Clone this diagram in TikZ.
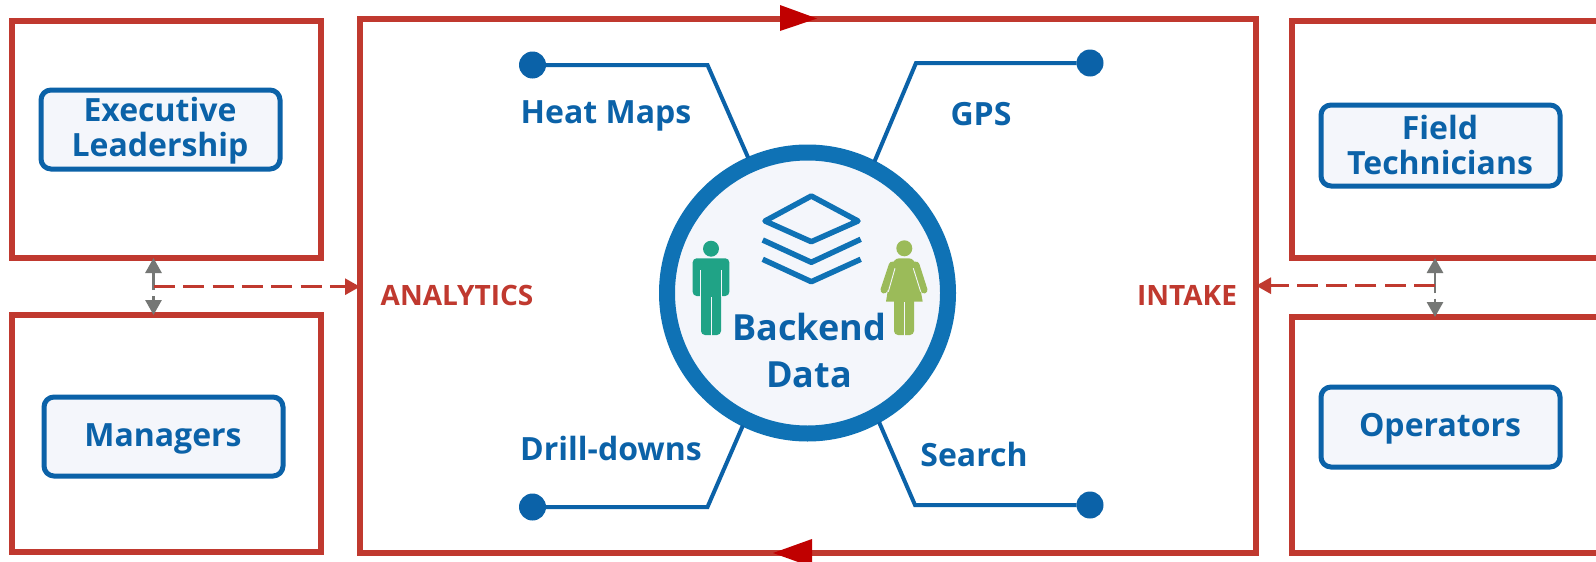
\documentclass[tikz,border=0pt]{standalone}
\usepackage{fontspec}
\setmainfont{Open Sans}
\usetikzlibrary{arrows.meta,calc}
\definecolor{blu}{HTML}{0B62A8}
\definecolor{ringblu}{HTML}{0F72B5}
\definecolor{pale}{HTML}{F4F6FB}
\definecolor{redd}{HTML}{C0392F}
\definecolor{tipred}{HTML}{C00000}
\definecolor{gry}{HTML}{757775}
\definecolor{grn}{HTML}{20A386}
\definecolor{olv}{HTML}{9BBB59}
\tikzset{
  x=1pt,y=-1pt,
  redbox/.style={draw=redd,line width=5.3pt,fill=white,rectangle,outer sep=0pt,inner sep=0pt},
  rolebox/.style={draw=blu,line width=5pt,fill=pale,rectangle,rounded corners=10pt,outer sep=0pt,inner sep=0pt},
  lbl/.style={text=blu,font=\fontsize{32}{35.5}\selectfont\bfseries,inner sep=0pt,align=center},
  redlbl/.style={text=redd,font=\fontsize{28}{30}\selectfont\bfseries,inner sep=0pt},
  spoke/.style={draw=blu,line width=4pt,line join=miter},
  dot/.style={circle,fill=blu,minimum size=27pt,inner sep=0pt,outer sep=0pt},
  greyarrow/.style={draw=gry,line width=2.8pt,-{Triangle[length=15pt,width=16pt]}},
  dasharrow/.style={draw=redd,line width=2.8pt,dash pattern=on 21pt off 8.3pt,-{Triangle[length=15pt,width=16pt]}},
  stack/.style={draw=ringblu,line width=5.5pt,line join=round},
}
\begin{document}
\begin{tikzpicture}
\path[use as bounding box,clip] (0,0) rectangle (1596,562);
\fill[white] (0,0) rectangle (1596,562);
% outer frames
\node[redbox,minimum width=309pt,minimum height=237pt] (ltop) at (166.5,139.5) {};
\node[redbox,minimum width=309pt,minimum height=237pt] (lbot) at (166.5,433.5) {};
\node[redbox,minimum width=896pt,minimum height=534pt] (frame) at (808,286) {};
\node[redbox,minimum width=360pt,minimum height=237pt] (rtop) at (1472,139.5) {};
\node[redbox,minimum width=360pt,minimum height=236pt] (rbot) at (1472,435) {};
% role boxes
\node[rolebox,minimum width=239pt,minimum height=79pt] (exec) at (160.5,129.5) {};
\node[rolebox,minimum width=239pt,minimum height=79pt] (mgr) at (163.5,436.5) {};
\node[rolebox,minimum width=239pt,minimum height=81pt] (field) at (1440.5,145.5) {};
\node[rolebox,minimum width=239pt,minimum height=80pt] (oper) at (1440.5,427) {};
\node[lbl] (exect) at (160,130.5) {Executive\\Leadership};
\node[lbl] (mgrt) at (163,439) {Managers};
\node[lbl] (fieldt) at (1440,145) {Field\\Technicians};
\node[lbl] (opert) at (1440,429) {Operators};
% frame arrowheads
\fill[tipred] (780,5) -- (817,18.5) -- (780,31) -- cycle;
\fill[tipred] (812,539) -- (773,553) -- (812,567) -- cycle;
% hub and spokes
\node[circle,draw=ringblu,fill=pale,line width=16pt,minimum size=281pt,inner sep=0pt,outer sep=7pt] (hub) at (807.5,293) {};
\node[dot] (d1) at (532.5,65) {};
\node[dot] (d2) at (1090,63) {};
\node[dot] (d3) at (532.5,507) {};
\node[dot] (d4) at (1090,505) {};
\coordinate (e1) at (707.5,65);
\coordinate (e2) at (916,63);
\coordinate (e3) at (707.5,507);
\coordinate (e4) at (915,505);
\draw[spoke] (d1) -- (e1) -- (hub);
\draw[spoke] (d2) -- (e2) -- (hub.63.8);
\draw[spoke] (d3) -- (e3) -- (hub.244.3);
\draw[spoke] (d4) -- (e4) -- (hub.-61);
% data stack icon
\draw[stack] (811.3,196) -- (858,221) -- (811.3,241.7) -- (765,221) -- cycle;
\draw[stack] (762.7,240) -- (811.3,262.3) -- (860.7,239.3);
\draw[stack] (762.7,259.3) -- (811.3,281.7) -- (860.7,259.3);
% man
\fill[grn] (711,248.7) circle (8);
\fill[grn,rounded corners=4pt] (692.7,258.3) rectangle (729.3,296);
\fill[grn,rounded corners=4pt] (701,270) rectangle (721,335);
\fill[pale] (700.2,270) rectangle (701,297);
\fill[pale] (721,270) rectangle (721.8,297);
\fill[pale] (710.5,297) rectangle (711.5,336);
% woman
\fill[olv] (904.3,248.3) circle (8);
\draw[olv,line width=7pt,line cap=round] (892.3,265) -- (884,290);
\draw[olv,line width=7pt,line cap=round] (916,265) -- (924,290);
\fill[olv,rounded corners=3pt] (892,264) -- (896,258.3) -- (912,258.3) -- (916,264) [sharp corners] -- (922.7,301.7) -- (886,301.7) -- cycle;
\draw[pale,line width=0.9pt] (895,268.3) -- (888.3,291.7);
\draw[pale,line width=0.9pt] (913.3,268.3) -- (920.7,291.7);
\fill[olv,rounded corners=4pt] (894,296) rectangle (914,335);
\fill[pale] (903.7,302) rectangle (904.8,336);
% grey arrows
\coordinate (gl) at (153.5,290);
\coordinate (gl2) at (153.5,296);
\coordinate (gr) at (1435,293);
\coordinate (gr2) at (1435,298.5);
\draw[greyarrow] (gl) -- (gl |- ltop.south);
\draw[greyarrow] (gl2) -- (gl2 |- lbot.north);
\draw[greyarrow] (gr) -- (gr |- rtop.south);
\draw[greyarrow] (gr2) -- (gr2 |- rbot.north);
% dashed
\coordinate (dl) at (154,286.7);
\coordinate (dr) at (1435,285.7);
\draw[dasharrow] (dl) -- (dl -| frame.west);
\draw[dasharrow] (dr) -- (dr -| frame.east);
% labels
\node[lbl,font=\fontsize{36}{47}\selectfont\bfseries] (hubtext) at (809,350.5) {Backend\\Data};
\node[lbl] (t1) at (606,116) {Heat Maps};
\node[lbl] (t2) at (981,114) {GPS};
\node[lbl] (t3) at (611,448) {Drill-downs};
\node[lbl] (t4) at (974,454) {Search};
\node[redlbl] (ta) at (457,295) {ANALYTICS};
\node[redlbl] (ti) at (1187,295) {INTAKE};
\end{tikzpicture}
\end{document}
